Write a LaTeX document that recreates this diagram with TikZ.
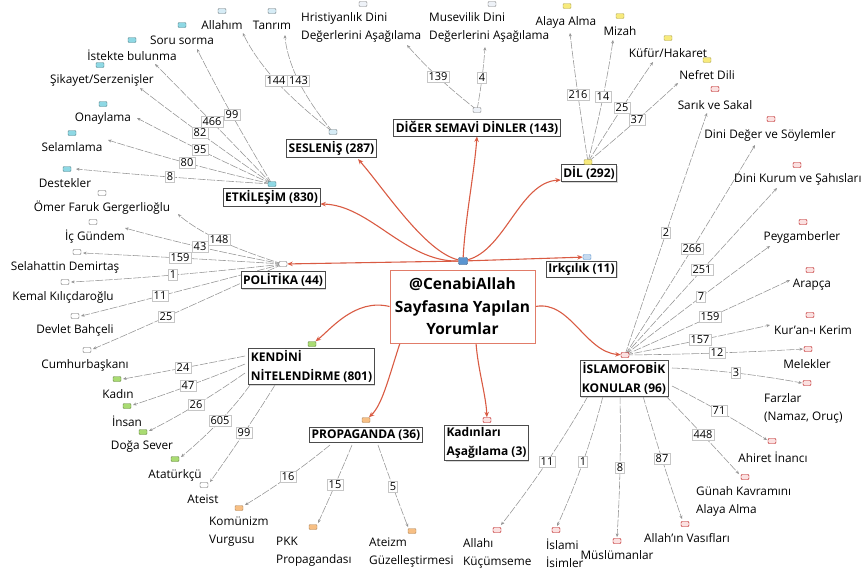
\documentclass[tikz,border=0pt]{standalone}
\usepackage{fontspec}
\setmainfont{Open Sans}
\usetikzlibrary{arrows.meta,shadows,backgrounds}
\definecolor{mapred}{HTML}{D95B43}
\definecolor{etkcol}{HTML}{8ED8E4}
\definecolor{sescol}{HTML}{D6ECF6}
\definecolor{digcol}{HTML}{EEF2F8}
\definecolor{dilcol}{HTML}{F7EA7C}
\definecolor{islcol}{HTML}{FBE1E1}
\definecolor{kencol}{HTML}{A9DB72}
\definecolor{propcol}{HTML}{F7BF84}
\definecolor{rootcol}{HTML}{5B95D0}
\begin{document}
\begin{tikzpicture}[x=1pt,y=-1pt,
    leaf/.style={font=\fontsize{11.8}{18}\selectfont,inner sep=1pt},
    cat/.style={draw=gray!60!black,line width=0.8pt,fill=white,inner sep=2pt,
      font=\fontsize{12}{19}\selectfont\bfseries,
      drop shadow={shadow xshift=1pt,shadow yshift=-1pt,fill=gray!60}},
    rootbox/.style={draw=mapred!80,line width=1pt,fill=white,align=center,
      minimum width=145pt,minimum height=73pt,inner sep=2pt,
      font=\fontsize{15.5}{22.5}\selectfont\bfseries},
    num/.style={draw=gray!45,fill=white,inner sep=1.5pt,font=\fontsize{11}{12}\selectfont},
    icon/.style={rounded corners=1pt,minimum width=8pt,minimum height=5pt,inner sep=0pt,line width=0.4pt},
    etkic/.style={icon,fill=etkcol,draw=etkcol!60!black},
    sesic/.style={icon,fill=sescol,draw=sescol!50!black},
    digic/.style={icon,fill=digcol,draw=gray},
    dilic/.style={icon,fill=dilcol,draw=dilcol!70!black},
    islic/.style={icon,fill=islcol,draw=red!70!black},
    kenic/.style={icon,fill=kencol,draw=kencol!60!black},
    propic/.style={icon,fill=propcol,draw=propcol!70!black},
    polic/.style={icon,fill=white,draw=gray!80!black},
    link/.style={gray!85,line width=0.55pt,dash pattern=on 8pt off 1.5pt,-{Stealth[length=3.5pt,width=3pt]}},
    mainlink/.style={mapred,line width=1.1pt,-{Stealth[length=5.5pt,width=4.5pt]}}
  ]
  \useasboundingbox (0,0) rectangle (863,574);

  % centre
  \node[rootbox] (root) at (462.5,306.5) {@CenabiAllah\\Sayfasına Yapılan\\Yorumlar};
  \node[icon,fill=rootcol,draw=rootcol!60!black,minimum width=9pt,minimum height=7pt] (root-ic) at (463,261) {};

  % categories
  \node[cat] (etk) at (271.5,197.5) {ETKİLEŞİM (830)};
  \node[cat] (ses) at (331.5,148) {SESLENİŞ (287)};
  \node[cat] (dig) at (477,127.5) {DİĞER SEMAVİ DİNLER (143)};
  \node[cat] (dil) at (589,173) {DİL (292)};
  \node[cat] (irk) at (581.5,269) {Irkçılık (11)};
  \node[cat] (pol) at (283,280) {POLİTİKA (44)};
  \node[cat,align=left] (ken) at (311.5,366.5) {KENDİNİ\\NİTELENDİRME (801)};
  \node[cat] (prop) at (366,435) {PROPAGANDA (36)};
  \node[cat,align=left] (kad) at (486.5,443) {Kadınları\\Aşağılama (3)};
  \node[cat,align=center] (isl) at (624,378.5) {İSLAMOFOBİK\\KONULAR (96)};

  \node[etkic] (etk-ic) at (272,184) {};
  \node[sesic] (ses-ic) at (333,132) {};
  \node[digic] (dig-ic) at (477,110) {};
  \node[dilic] (dil-ic) at (588,162) {};
  \node[icon,fill=rootcol!35,draw=rootcol] (irk-ic) at (587,257) {};
  \node[polic] (pol-ic) at (283,264) {};
  \node[kenic] (ken-ic) at (312,344) {};
  \node[propic] (prop-ic) at (366,420) {};
  \node[islic] (kad-ic) at (487,420) {};
  \node[islic] (isl-ic) at (625,355) {};

  % etkilesim
  \node[leaf] (soru) at (182,40) {Soru sorma};
  \node[etkic] (soru-ic) at (182,25) {};
  \coordinate (soru-e) at (197,49);
  \node[num] (n-soru) at (232,115) {99};
  \node[leaf] (istek) at (132,55) {İstekte bulunma};
  \node[etkic] (istek-ic) at (132,40) {};
  \coordinate (istek-e) at (155,64);
  \node[num] (n-istek) at (212,122) {466};
  \node[leaf] (sikayet) at (102,80) {Şikayet/Serzenişler};
  \node[etkic] (sikayet-ic) at (100,65) {};
  \coordinate (sikayet-e) at (140,88);
  \node[num] (n-sikayet) at (200,133) {82};
  \node[leaf] (onay) at (103,118) {Onaylama};
  \node[etkic] (onay-ic) at (103,104) {};
  \coordinate (onay-e) at (137,118);
  \node[num] (n-onay) at (200,150) {95};
  \node[leaf] (selam) at (72,147) {Selamlama};
  \node[etkic] (selam-ic) at (72,133) {};
  \coordinate (selam-e) at (108,140);
  \node[num] (n-selam) at (187,163) {80};
  \node[leaf] (destek) at (65,183) {Destekler};
  \node[etkic] (destek-ic) at (67,169) {};
  \coordinate (destek-e) at (76,169);
  \node[num] (n-destek) at (170,177) {8};

  % seslenis
  \node[leaf] (allahim) at (222,25) {Allahım};
  \node[sesic] (allahim-ic) at (222,11) {};
  \coordinate (allahim-e) at (243,33);
  \node[num] (n-allahim) at (276,81) {144};
  \node[leaf] (tanrim) at (272,25) {Tanrım};
  \node[sesic] (tanrim-ic) at (272,11) {};
  \coordinate (tanrim-e) at (285,35);
  \node[num] (n-tanrim) at (298.5,81) {143};

  % diger semavi dinler
  \node[leaf,anchor=west,align=left] (hrist) at (300,27) {Hristiyanlık Dini\\Değerlerini Aşağılama};
  \node[digic] (hrist-ic) at (363,4) {};
  \coordinate (hrist-e) at (407,45);
  \node[num] (n-hrist) at (438,77) {139};
  \node[leaf,anchor=west,align=left] (musevi) at (428,27) {Musevilik Dini\\Değerlerini Aşağılama};
  \node[digic] (musevi-ic) at (492,4) {};
  \coordinate (musevi-e) at (485,47);
  \node[num] (n-musevi) at (482,78) {4};

  % dil
  \node[leaf] (alaya) at (566,22) {Alaya Alma};
  \node[dilic] (alaya-ic) at (567,6) {};
  \coordinate (alaya-e) at (570,33);
  \node[num] (n-alaya) at (578,95) {216};
  \node[leaf] (mizah) at (620,31) {Mizah};
  \node[dilic] (mizah-ic) at (620,16) {};
  \coordinate (mizah-e) at (613,40);
  \node[num] (n-mizah) at (603,97) {14};
  \node[leaf] (kufur) at (668,53) {Küfür/Hakaret};
  \node[dilic] (kufur-ic) at (668,38) {};
  \coordinate (kufur-e) at (653,62);
  \node[num] (n-kufur) at (622,108) {25};
  \node[leaf] (nefret) at (707,75) {Nefret Dili};
  \node[dilic] (nefret-ic) at (707,60) {};
  \coordinate (nefret-e) at (678,83);
  \node[num] (n-nefret) at (637,120) {37};

  % islamofobik konular
  \node[leaf] (sarik) at (715,105) {Sarık ve Sakal};
  \node[islic] (sarik-ic) at (715,89) {};
  \coordinate (sarik-e) at (707,113);
  \node[num] (n-sarik) at (666,233) {2};
  \node[leaf] (dinideg) at (770,135) {Dini Değer ve Söylemler};
  \node[islic] (dinideg-ic) at (771,119) {};
  \coordinate (dinideg-e) at (755,145);
  \node[num] (n-dinideg) at (692,249) {266};
  \node[leaf,anchor=west] (dinikur) at (733,179) {Dini Kurum ve Şahısları};
  \node[islic] (dinikur-ic) at (797,165) {};
  \coordinate (dinikur-e) at (777,188);
  \node[num] (n-dinikur) at (702,270) {251};
  \node[leaf] (peyg) at (802,237) {Peygamberler};
  \node[islic] (peyg-ic) at (803,222) {};
  \coordinate (peyg-e) at (770,246);
  \node[num] (n-peyg) at (701,297) {7};
  \node[leaf] (arapca) at (812,285) {Arapça};
  \node[islic] (arapca-ic) at (810,270) {};
  \coordinate (arapca-e) at (790,280);
  \node[num] (n-arapca) at (710,317) {159};
  \node[leaf] (kuran) at (813,330) {Kur'an-ı Kerim};
  \node[islic] (kuran-ic) at (810,315) {};
  \coordinate (kuran-e) at (770,325);
  \node[num] (n-kuran) at (700,340) {157};
  \node[leaf] (melek) at (807,364) {Melekler};
  \node[islic] (melek-ic) at (808,349) {};
  \coordinate (melek-e) at (803,349);
  \node[num] (n-melek) at (717,353) {12};
  \node[leaf,anchor=west,align=left] (farz) at (763,408) {Farzlar\\(Namaz, Oruç)};
  \node[islic] (farz-ic) at (807,383) {};
  \coordinate (farz-s) at (672,368);
  \coordinate (farz-e) at (802,383);
  \node[num] (n-farz) at (736,373) {3};
  \node[leaf] (ahiret) at (773,457) {Ahiret İnancı};
  \node[islic] (ahiret-ic) at (772,441) {};
  \coordinate (ahiret-s) at (672,386);
  \coordinate (ahiret-e) at (767,440);
  \node[num] (n-ahiret) at (719,411) {71};
  \node[leaf,anchor=west,align=left] (gunah) at (695,501) {Günah Kavramını\\Alaya Alma};
  \node[islic] (gunah-ic) at (745,477) {};
  \coordinate (gunah-s) at (665,395);
  \coordinate (gunah-e) at (739,474);
  \node[num] (n-gunah) at (703,435) {448};
  \node[leaf] (vasif) at (687,538) {Allah'ın Vasıfları};
  \node[islic] (vasif-ic) at (685,524) {};
  \coordinate (vasif-s) at (643,396);
  \coordinate (vasif-e) at (682,519);
  \node[num] (n-vasif) at (662,459) {87};
  \node[leaf] (musl) at (617,555) {Müslümanlar};
  \node[islic] (musl-ic) at (617,541) {};
  \coordinate (musl-s) at (620,396);
  \coordinate (musl-e) at (617,537);
  \node[num] (n-musl) at (620,468) {8};
  \node[leaf,anchor=west,align=left] (islami) at (545,553) {İslami\\İsimler};
  \node[islic] (islami-ic) at (556,530) {};
  \coordinate (islami-s) at (603,396);
  \coordinate (islami-e) at (557,526);
  \node[num] (n-islami) at (583,462) {1};
  \node[leaf,anchor=west,align=left] (allahi) at (462,553) {Allahı\\Küçümseme};
  \node[islic] (allahi-ic) at (497,530) {};
  \coordinate (allahi-s) at (588,396);
  \coordinate (allahi-e) at (501,525);
  \node[num] (n-allahi) at (547,462) {11};

  % politika
  \node[leaf] (omer) at (102,208) {Ömer Faruk Gergerlioğlu};
  \node[polic] (omer-ic) at (102,193) {};
  \coordinate (omer-e) at (178,214);
  \node[num] (n-omer) at (219,240) {148};
  \node[leaf] (icg) at (95,237) {İç Gündem};
  \node[polic] (icg-ic) at (93,222) {};
  \coordinate (icg-e) at (125,228);
  \node[num] (n-icg) at (200,247) {43};
  \node[leaf] (selah) at (65,267) {Selahattin Demirtaş};
  \node[polic] (selah-ic) at (77,252) {};
  \coordinate (selah-e) at (83,253);
  \node[num] (n-selah) at (180,258) {159};
  \node[leaf] (kemal) at (63,297) {Kemal Kılıçdaroğlu};
  \node[polic] (kemal-ic) at (65,282) {};
  \coordinate (kemal-e) at (71,282);
  \node[num] (n-kemal) at (173,275) {1};
  \node[leaf] (devlet) at (75,330) {Devlet Bahçeli};
  \node[polic] (devlet-ic) at (75,316) {};
  \coordinate (devlet-e) at (81,316);
  \node[num] (n-devlet) at (160,296) {11};
  \node[leaf] (cumhur) at (85,365) {Cumhurbaşkanı};
  \node[polic] (cumhur-ic) at (87,350) {};
  \coordinate (cumhur-e) at (93,349);
  \node[num] (n-cumhur) at (166,317) {25};

  % kendini nitelendirme
  \node[leaf] (kadin) at (118,394) {Kadın};
  \node[kenic] (kadin-ic) at (117,379) {};
  \coordinate (kadin-s) at (245,356);
  \coordinate (kadin-e) at (123,379);
  \node[num] (n-kadin) at (183,368) {24};
  \node[leaf] (insan) at (127,421) {İnsan};
  \node[kenic] (insan-ic) at (127,406) {};
  \coordinate (insan-s) at (245,364);
  \coordinate (insan-e) at (133,405);
  \node[num] (n-insan) at (188,386) {47};
  \node[leaf] (doga) at (142,447) {Doğa Sever};
  \node[kenic] (doga-ic) at (143,432) {};
  \coordinate (doga-s) at (245,373);
  \coordinate (doga-e) at (149,431);
  \node[num] (n-doga) at (196,405) {26};
  \node[leaf] (atat) at (175,475) {Atatürkçü};
  \node[kenic] (atat-ic) at (175,459) {};
  \coordinate (atat-s) at (250,385);
  \coordinate (atat-e) at (181,457);
  \node[num] (n-atat) at (220,421) {605};
  \node[leaf] (ateist) at (203,499) {Ateist};
  \node[polic] (ateist-ic) at (204,485) {};
  \coordinate (ateist-s) at (275,385);
  \coordinate (ateist-e) at (210,482);
  \node[num] (n-ateist) at (244,433) {99};

  % propaganda
  \node[leaf,anchor=west,align=left] (komun) at (208,532) {Komünizm\\Vurgusu};
  \node[propic] (komun-ic) at (239,508) {};
  \coordinate (komun-s) at (330,445);
  \coordinate (komun-e) at (245,505);
  \node[num] (n-komun) at (288,477) {16};
  \node[leaf,anchor=west,align=left] (pkk) at (275,552) {PKK\\Propagandası};
  \node[propic] (pkk-ic) at (313,527) {};
  \coordinate (pkk-s) at (352,445);
  \coordinate (pkk-e) at (318,523);
  \node[num] (n-pkk) at (335,485) {15};
  \node[leaf,anchor=west,align=left] (ateizm) at (368,553) {Ateizm\\Güzelleştirmesi};
  \node[propic] (ateizm-ic) at (412,531) {};
  \coordinate (ateizm-s) at (378,445);
  \coordinate (ateizm-e) at (408,527);
  \node[num] (n-ateizm) at (393,487) {5};

  \begin{scope}[on background layer]
    % red links from the centre
    \draw[mainlink] (root-ic) .. controls (405,262) and (370,205) .. (etk.east |- 0,204);
    \draw[mainlink] (root-ic) .. controls (425,252) and (385,190) .. (358,159);
    \draw[mainlink] (root-ic) .. controls (465,220) and (474,175) .. (dig.south);
    \draw[mainlink] (root-ic) .. controls (505,250) and (520,182) .. (dil.west |- 0,180);
    \draw[mainlink] (root-ic) -- (irk-ic);
    \draw[mainlink] (root-ic) -- (pol-ic);
    \draw[mainlink] (root.west) .. controls (355,298) and (330,330) .. (ken-ic);
    \draw[mainlink] (400,343) .. controls (388,380) and (382,405) .. (prop-ic);
    \draw[mainlink] (476,343) .. controls (478,370) and (486,395) .. (kad-ic);
    \draw[mainlink] (root.east) .. controls (570,300) and (585,352) .. (isl-ic);
    % etkilesim
    \foreach \k in {soru,istek,sikayet,onay,selam,destek}
      \draw[link] plot[smooth,tension=1] coordinates {(etk-ic.center) (n-\k.center) (\k-e)};
    % seslenis, diger, dil
    \foreach \k in {allahim,tanrim}
      \draw[link] plot[smooth,tension=1] coordinates {(ses-ic.center) (n-\k.center) (\k-e)};
    \foreach \k in {hrist,musevi}
      \draw[link] plot[smooth,tension=1] coordinates {(dig-ic.center) (n-\k.center) (\k-e)};
    \foreach \k in {alaya,mizah,kufur,nefret}
      \draw[link] plot[smooth,tension=1] coordinates {(dil-ic.center) (n-\k.center) (\k-e)};
    % islamofobik
    \foreach \k in {sarik,dinideg,dinikur,peyg,arapca,kuran,melek}
      \draw[link] plot[smooth,tension=1] coordinates {(isl-ic.center) (n-\k.center) (\k-e)};
    \foreach \k in {farz,ahiret,gunah,vasif,musl,islami,allahi}
      \draw[link] plot[smooth,tension=1] coordinates {(\k-s) (n-\k.center) (\k-e)};
    % politika
    \foreach \k in {omer,icg,selah,kemal,devlet,cumhur}
      \draw[link] plot[smooth,tension=1] coordinates {(pol-ic.center) (n-\k.center) (\k-e)};
    % kendini nitelendirme, propaganda
    \foreach \k in {kadin,insan,doga,atat,ateist,komun,pkk,ateizm}
      \draw[link] plot[smooth,tension=1] coordinates {(\k-s) (n-\k.center) (\k-e)};
  \end{scope}
\end{tikzpicture}
\end{document}
